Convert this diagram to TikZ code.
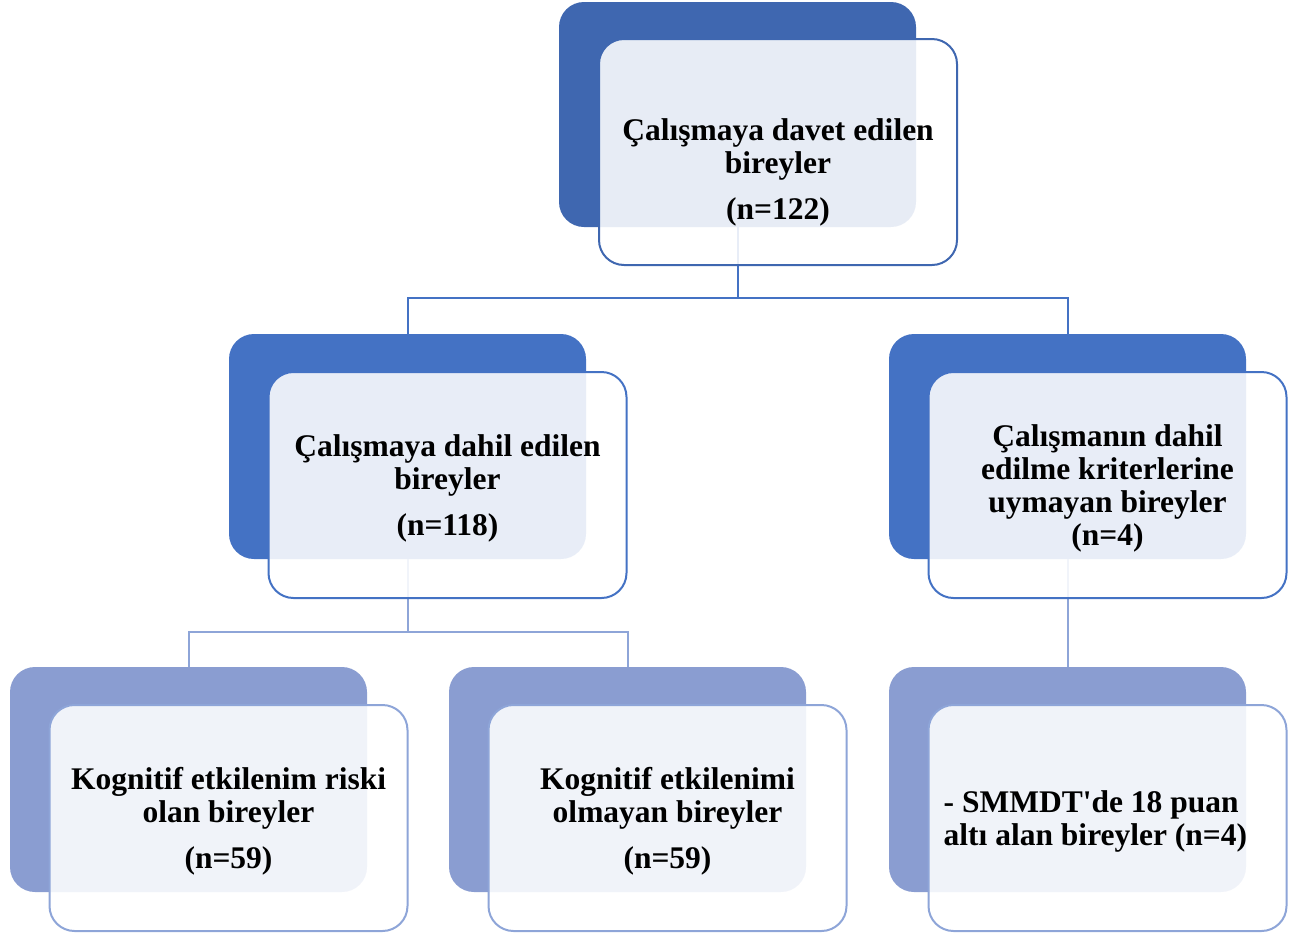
\documentclass[tikz,border=0pt]{standalone}
\usepackage{fontspec}
\setmainfont{Liberation Serif}
\usepackage{xcolor}
\usetikzlibrary{positioning, calc}

\definecolor{topblue}{HTML}{3F67B0}
\definecolor{midblue}{HTML}{4472C4}
\definecolor{lowblue}{HTML}{8A9DD1}
\definecolor{lowline}{HTML}{8EA5D8}

\begin{document}
\begin{tikzpicture}[
   x=1pt, y=-1pt,
   backbox/.style = {rectangle, rounded corners=25pt, minimum width=357pt, minimum height=225pt, inner sep=0pt},
   frontbox/.style = {draw, rectangle, rounded corners=25pt, line width=2pt, fill=white, fill opacity=0.88, minimum width=358pt, minimum height=226pt, inner sep=0pt},
   boxtext/.style = {align=center, font=\fontsize{31.5}{33}\selectfont\bfseries, inner sep=0pt, yshift=-3pt},
   link/.style = {draw, line width=2pt}
   ]
  \useasboundingbox (0,0) rectangle (1304,938);

  % Back boxes
  \node[backbox, fill=topblue] (invited) at (737.5,114.5) {};
  \node[backbox, fill=midblue] (included) at (407.5,446.5) {};
  \node[backbox, fill=midblue] (excluded) at (1067.5,446.5) {};
  \node[backbox, fill=lowblue] (risk) at (188.5,779.5) {};
  \node[backbox, fill=lowblue] (norisk) at (627.5,779.5) {};
  \node[backbox, fill=lowblue] (smmdt) at (1067.5,779.5) {};

  % Connectors
  \coordinate (split1) at (737.5,298);
  \coordinate (split2) at (407.5,632);
  \draw[link, midblue] (invited.south) -- (split1) -| (included.north);
  \draw[link, midblue] (split1) -| (excluded.north);
  \draw[link, lowline] (included.south) -- (split2) -| (risk.north);
  \draw[link, lowline] (split2) -| (norisk.north);
  \draw[link, lowline] (excluded.south) -- (smmdt.north);

  % Front boxes
  \node[frontbox, draw=topblue] (invitedf) at ($(invited)+(40.5,37.5)$) {};
  \node[frontbox, draw=midblue] (includedf) at ($(included)+(40,38.5)$) {};
  \node[frontbox, draw=midblue] (excludedf) at ($(excluded)+(40,38.5)$) {};
  \node[frontbox, draw=lowline] (riskf) at ($(risk)+(40,38.5)$) {};
  \node[frontbox, draw=lowline] (noriskf) at ($(norisk)+(40,38.5)$) {};
  \node[frontbox, draw=lowline] (smmdtf) at ($(smmdt)+(40,38.5)$) {};

  % Texts
  \node[boxtext, yshift=-17pt] (invitedt) at (invitedf)
   {Çalışmaya davet edilen\\
   bireyler\\[13pt]
   (n=122)};
  \node[boxtext] (includedt) at (includedf)
   {Çalışmaya dahil edilen\\
   bireyler\\[13pt]
   (n=118)};
  \node[boxtext] (excludedt) at (excludedf)
   {Çalışmanın dahil\\
   edilme kriterlerine\\
   uymayan bireyler\\
   (n=4)};
  \node[boxtext] (riskt) at (riskf)
   {Kognitif etkilenim riski\\
   olan bireyler\\[13pt]
   (n=59)};
  \node[boxtext] (noriskt) at (noriskf)
   {Kognitif etkilenimi\\
   olmayan bireyler\\[13pt]
   (n=59)};
  \node[boxtext, align=left, anchor=west, right=16pt of smmdtf.west] (smmdtt)
   {- SMMDT\textquotesingle de 18 puan\\
   altı alan bireyler (n=4)};
\end{tikzpicture}
\end{document}
